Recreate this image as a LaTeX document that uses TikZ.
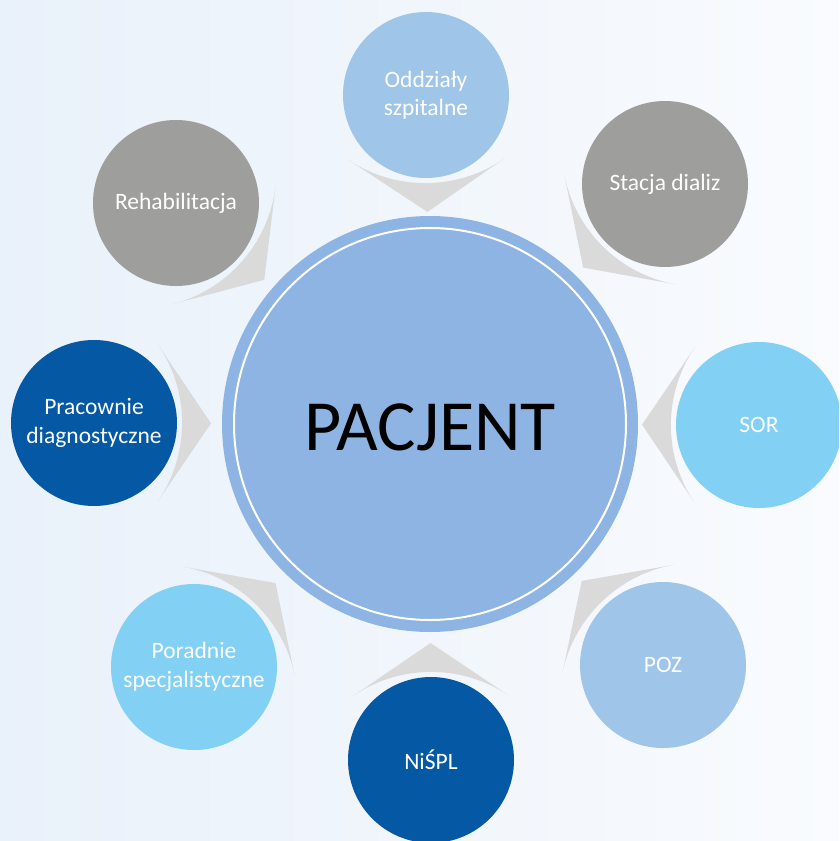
\documentclass[tikz,border=0pt]{standalone}
\usepackage{fontspec}
\setmainfont{Carlito}
\usetikzlibrary{calc}
\definecolor{bgL}{HTML}{E9F1FA}
\definecolor{bgR}{HTML}{F9FBFE}
\definecolor{cMain}{HTML}{8EB4E3}
\definecolor{cLight}{HTML}{9FC5E9}
\definecolor{cSky}{HTML}{83D0F5}
\definecolor{cGray}{HTML}{9E9E9D}
\definecolor{cDark}{HTML}{0558A3}
\definecolor{cChev}{HTML}{DADADA}
\newcommand\mychev[1]{%
  \fill[chevfill] ($(#1.center)!101pt!50.6:(P.center)$) -- ($(#1.center)!117pt!(P.center)$) -- ($(#1.center)!101pt!-50.6:(P.center)$) .. controls ($(#1.center)!101pt!-17.9:(P.center)$) and ($(#1.center)!101pt!17.9:(P.center)$) .. cycle;}
\begin{document}
\begin{tikzpicture}[x=1pt,y=-1pt,
  sat/.style={circle, minimum size=166pt, inner sep=0pt, text=white, align=center,
    font=\fontsize{23.5}{28.5}\selectfont},
  chevfill/.style={fill=cChev}]
\useasboundingbox (0,0) rectangle (839,841);
\clip (0,0) rectangle (839,841);
\shade[left color=bgL, right color=bgR] (0,0) rectangle (839,841);
% central
\node[circle, fill=cMain, minimum size=416pt, inner sep=0pt] (P) at (430,424) {};
\draw[white, line width=2pt] (P.center) circle[radius=196pt];
\node[font=\fontsize{72}{80}\selectfont, text=black] (Ptxt) at (430,427) {PACJENT};
% satellites
\node[sat, fill=cLight] (odd) at (426,95) {Oddziały\\szpitalne};
\node[sat, fill=cGray] (sta) at (665,184) {Stacja dializ};
\node[sat, fill=cSky] (sor) at (759,425) {SOR};
\node[sat, fill=cLight] (poz) at (663,665) {POZ};
\node[sat, fill=cDark] (nis) at (431,760) {NiŚPL};
\node[sat, fill=cSky] (por) at (194,667) {Poradnie\\specjalistyczne};
\node[sat, fill=cDark] (pra) at (94,423) {Pracownie\\diagnostyczne};
\node[sat, fill=cGray] (reh) at (176,203) {Rehabilitacja};
% chevrons
\mychev{odd}
\mychev{sta}
\mychev{sor}
\mychev{poz}
\mychev{nis}
\mychev{por}
\mychev{pra}
\mychev{reh}
\end{tikzpicture}
\end{document}
